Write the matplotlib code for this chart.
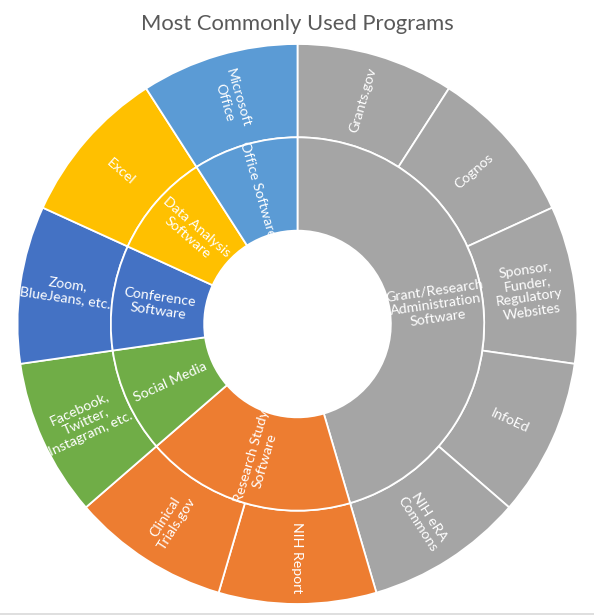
import numpy as np
import matplotlib
matplotlib.use("Agg")
import matplotlib.pyplot as plt
from matplotlib.lines import Line2D

plt.rcParams["font.family"] = ["Lato", "DejaVu Sans"]

# inner ring: categories, in clockwise order from 12 o'clock
groups = [
    "Grant/Research\nAdministration\nSoftware",
    "Research Study\nSoftware",
    "Social Media",
    "Conference\nSoftware",
    "Data Analysis\nSoftware",
    "Office Software",
]
group_colors = ["#A5A5A5", "#ED7D31", "#70AD47", "#4472C4", "#FFC000", "#5B9BD5"]

# outer ring: programs, with the index of their parent category
programs = [
    "Grants.gov",
    "Cognos",
    "Sponsor,\nFunder,\nRegulatory\nWebsites",
    "InfoEd",
    "NIH eRA\nCommons",
    "NIH Report",
    "Clinical\nTrials.gov",
    "Facebook,\nTwitter,\nInstagram, etc.",
    "Zoom,\nBlueJeans, etc.",
    "Excel",
    "Microsoft\nOffice",
]
program_parent = [0, 0, 0, 0, 0, 1, 1, 2, 3, 4, 5]
program_values = [1, 1, 1, 1, 1, 1, 1, 1, 1, 1, 1]

group_values = [sum(v for v, p in zip(program_values, program_parent) if p == g)
                for g in range(len(groups))]

W, H = 594, 615
fig = plt.figure(figsize=(W / 100, H / 100), dpi=100)
fig.patch.set_facecolor("white")

# center at (297.5, 324) px from top, outer radius 280 px
R_PX = 280
cx, cy = 297.5, H - 324
ax = fig.add_axes([(cx - R_PX) / W, (cy - R_PX) / H, 2 * R_PX / W, 2 * R_PX / H])

edge = dict(edgecolor="white", linewidth=1.3)

outer_colors = [group_colors[p] for p in program_parent]
outer, _ = ax.pie(program_values, radius=1.0, colors=outer_colors,
                  startangle=90, counterclock=False,
                  wedgeprops=dict(width=1 / 3, **edge))
inner, _ = ax.pie(group_values, radius=2 / 3, colors=group_colors,
                  startangle=90, counterclock=False,
                  wedgeprops=dict(width=1 / 3, **edge))

# pie() resets the limits, so set them afterwards
ax.set_xlim(-1, 1)
ax.set_ylim(-1, 1)
ax.set_aspect("equal")
ax.axis("off")


def put_label(wedge, text, r):
    mid = 0.5 * (wedge.theta1 + wedge.theta2)
    a = np.deg2rad(mid)
    rot = (mid + 180) % 360 - 180
    if rot > 90:
        rot -= 180
    elif rot < -90:
        rot += 180
    ax.text(r * np.cos(a), r * np.sin(a), text, rotation=rot,
            rotation_mode="anchor", ha="center", va="center",
            color="white", fontsize=10.2, linespacing=1.2)


for w, t in zip(outer, programs):
    put_label(w, t, 5 / 6)
for w, t in zip(inner, groups):
    put_label(w, t, 1 / 2)

fig.text(0.5, 1 - 24 / H, "Most Commonly Used Programs", ha="center", va="center",
         fontsize=15.8, color="#595959")

# faint frame line along the bottom edge
fig.add_artist(Line2D([0, 1], [1.5 / H, 1.5 / H], color="#D9D9D9", linewidth=1.2))

fig.savefig("out.png", dpi=100, facecolor="white")
